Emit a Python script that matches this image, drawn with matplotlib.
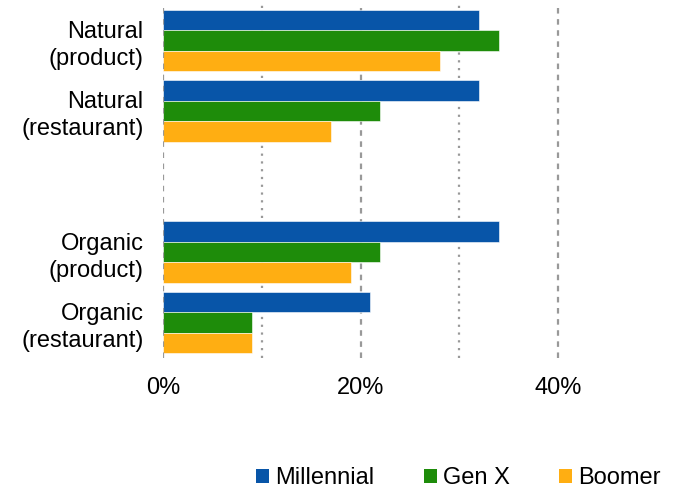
import numpy as np
import matplotlib.pyplot as plt
from matplotlib.patches import Patch

plt.rcParams['font.family'] = ['Liberation Sans', 'DejaVu Sans']

categories = ['Natural\n(product)', 'Natural\n(restaurant)', '',
              'Organic\n(product)', 'Organic\n(restaurant)']
millennial = [32, 32, np.nan, 34, 21]
gen_x = [34, 22, np.nan, 22, 9]
boomer = [28, 17, np.nan, 19, 9]
series_names = ['Millennial', 'Gen X', 'Boomer']
colors = ['#0855A8', '#1E8C0A', '#FFAE12']
ticks = [0, 20, 40]
tick_labels = ['0%', '20%', '40%']

fig = plt.figure(figsize=(6.73, 4.9), dpi=100)
ax = fig.add_axes([0.2422, 0.2694, 0.734, 0.7204])

y = np.arange(len(categories))
h = 0.29
for i, (vals, c) in enumerate(zip([millennial, gen_x, boomer], colors)):
    ax.barh(y + (i - 1) * h, vals, height=h, color=c, edgecolor='white',
            linewidth=0.4, zorder=3)

# gridlines: dotted at 10/30, dashed at 0/20/40
for gx in [10, 30]:
    ax.axvline(gx, color='#999999', linestyle=(0, (1, 2.5)), linewidth=1.6, zorder=1)
for gx in [20, 40]:
    ax.axvline(gx, color='#999999', linestyle=(0, (2.5, 2.5)), linewidth=1.6, zorder=1)
ax.axvline(0, color='#999999', linestyle=(0, (2.5, 2.5)), linewidth=1.6, zorder=4)

ax.set_xlim(0, 50)
ax.set_ylim(len(categories) - 0.5, -0.5)
ax.set_xticks(ticks)
ax.set_xticklabels(tick_labels, fontsize=17)
ax.set_yticks(y)
ax.set_yticklabels(categories, fontsize=17, linespacing=1.3)
ax.tick_params(axis='both', length=0)
ax.tick_params(axis='x', pad=14)
ax.tick_params(axis='y', pad=14)
for s in ax.spines.values():
    s.set_visible(False)

handles = [Patch(facecolor=c, edgecolor='none') for c in colors]
fig.legend(handles, series_names, loc='lower center', bbox_to_anchor=(0.681, 0.002),
           ncol=3, frameon=False, fontsize=17, handlelength=0.55,
           handleheight=0.55, handletextpad=0.25, columnspacing=2.1,
           borderpad=0.0, borderaxespad=0.0)

fig.savefig('out.png', dpi=100)
